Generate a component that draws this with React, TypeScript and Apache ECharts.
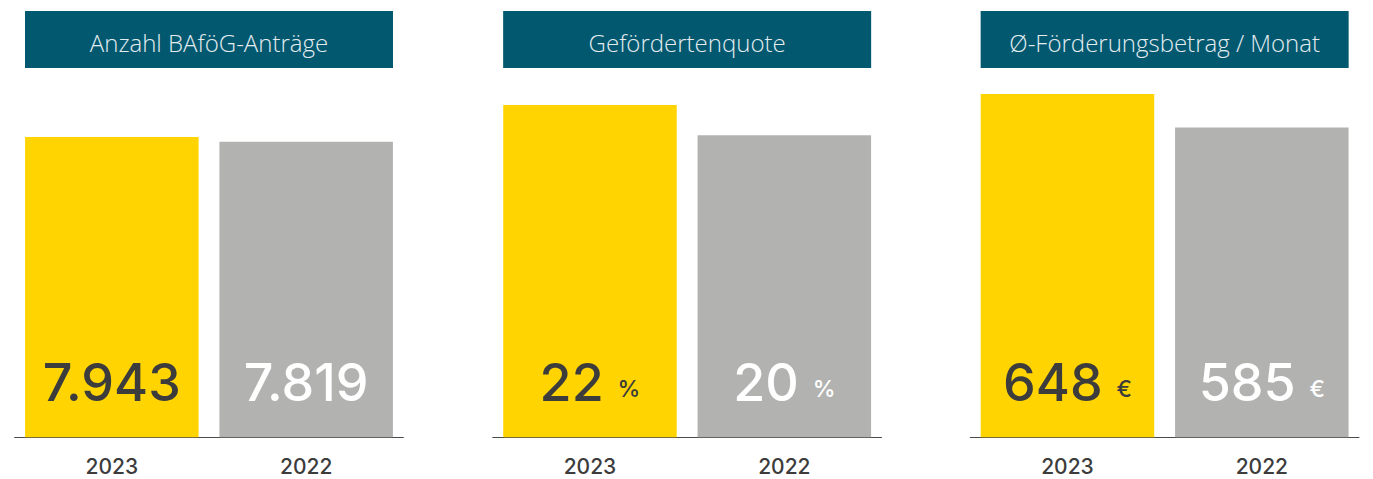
import React, { useEffect, useRef } from "react";
import * as echarts from "echarts";

const categories = ["2023", "2022"];
const titles = ["Anzahl BAföG-Anträge", "Gefördertenquote", "Ø-Förderungsbetrag / Monat"];
const applications = [7943, 7819];
const fundingRate = [22, 20];
const avgAmount = [648, 585];
const units = ["", "%", "€"];
const axisMax = [9080, 22.73, 648];

const panelData = [applications, fundingRate, avgAmount];
const gridLefts = [14.65, 492.8, 970.3];
const GRID_W = 388.7;
const YELLOW = "#FFD400";
const GREY = "#B2B2B1";
const TEAL = "#02586F";
const DARK = "#3C3C3C";
const FONT = "'Open Sans', sans-serif";
const NUMFONT = "Inter, 'Open Sans', sans-serif";

function fmt(v: number): string {
  return String(v).replace(/\B(?=(\d{3})+(?!\d))/g, ".");
}

export default function App() {
  const ref = useRef<HTMLDivElement>(null);
  useEffect(() => {
    if (!ref.current) return;
    const chart = echarts.init(ref.current, null, { renderer: "svg" });
    const grids = gridLefts.map((l) => ({ left: l, width: GRID_W, top: 94, bottom: 41.7 }));
    const xAxes = gridLefts.map((_, i) => ({
      type: "category",
      gridIndex: i,
      data: categories,
      axisLine: { lineStyle: { color: "#4A4A4A", width: 1 } },
      axisTick: { show: false },
      axisLabel: { color: DARK, fontSize: 21, fontFamily: NUMFONT, fontWeight: 500, margin: 18, lineHeight: 22 },
    }));
    const yAxes = gridLefts.map((_, i) => ({
      type: "value",
      gridIndex: i,
      min: 0,
      max: axisMax[i],
      show: false,
      splitLine: { show: false },
    }));
    const series = panelData.map((vals, i) => ({
      type: "bar",
      xAxisIndex: i,
      yAxisIndex: i,
      barWidth: 173.5,
      data: vals.map((v, j) => ({ value: v, itemStyle: { color: j === 0 ? YELLOW : GREY } })),
      label: {
        show: true,
        position: "insideBottom",
        distance: 29,
        formatter: (p: any) => {
          const k = p.dataIndex === 0 ? "d" : "w";
          const u = units[i];
          return u ? `{v${k}|${fmt(p.value)} }{u${k}|${u}}` : `{v${k}|${fmt(p.value)}}`;
        },
        rich: {
          vd: { color: DARK, fontSize: 52, fontFamily: NUMFONT, fontWeight: 500, lineHeight: 60, verticalAlign: "bottom" },
          vw: { color: "#FFFFFF", fontSize: 52, fontFamily: NUMFONT, fontWeight: 500, lineHeight: 60, verticalAlign: "bottom" },
          ud: { color: DARK, fontSize: 23, fontFamily: NUMFONT, fontWeight: 500, lineHeight: 60, verticalAlign: "bottom", padding: [0, 0, 8, 0] },
          uw: { color: "#FFFFFF", fontSize: 23, fontFamily: NUMFONT, fontWeight: 500, lineHeight: 60, verticalAlign: "bottom", padding: [0, 0, 8, 0] },
        },
      },
    }));
    const graphics = titles.map((t, i) => ({
      type: "group",
      x: gridLefts[i] + 10.35,
      y: 11,
      children: [
        { type: "rect", shape: { x: 0, y: 0, width: 368, height: 57 }, style: { fill: TEAL } },
        {
          type: "text",
          x: 184,
          y: 31,
          style: { text: t, fill: "#E4ECEF", fontSize: 24, fontFamily: FONT, fontWeight: 300, textAlign: "center", textVerticalAlign: "middle" },
        },
      ],
    }));
    chart.setOption({
      animation: false,
      backgroundColor: "#FFFFFF",
      grid: grids,
      xAxis: xAxes,
      yAxis: yAxes,
      series,
      graphic: graphics,
    } as any);
    return () => chart.dispose();
  }, []);
  return <div ref={ref} style={{ position: "absolute", left: 0, top: 0, width: 1373, height: 479 }} />;
}
